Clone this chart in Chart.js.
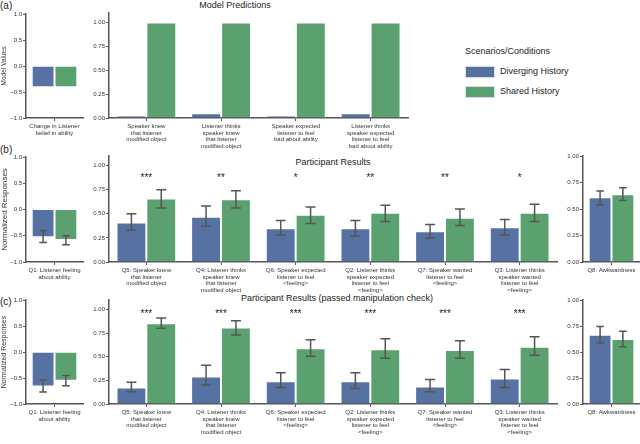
<!DOCTYPE html>
<html lang="en">
<head>
<meta charset="UTF-8">
<title>Model Predictions and Participant Results</title>
<script src="https://cdn.jsdelivr.net/npm/chart.js"></script>
<style>
  body { margin: 0; background: #fff; font-family: "Liberation Sans", Arial, sans-serif; color: #222; }
  #page { position: relative; width: 640px; height: 444px; overflow: hidden; background: #fff; }
  #page canvas { position: absolute; }
  .txt { position: absolute; white-space: nowrap; }
  .title { font-size: 9px; transform: translateX(-50%); }
  .letter { font-size: 10px; }
  .swatch { position: absolute; width: 28px; height: 10px; border: 1px solid #ddd; }
</style>
</head>
<body>
<div id="page">
  <div class="txt letter" style="left:0; top:0;">(a)</div>
  <div class="txt letter" style="left:0; top:144px;">(b)</div>
  <div class="txt letter" style="left:0; top:296px;">(c)</div>

  <div class="txt title" style="left:235px; top:0;">Model Predictions</div>
  <div class="txt title" style="left:333px; top:157px;">Participant Results</div>
  <div class="txt title" style="left:337px; top:293px;">Participant Results (passed manipulation check)</div>

  <!-- legend -->
  <div class="txt" style="left:465px; top:46px; font-size:9px;">Scenarios/Conditions</div>
  <div class="swatch" style="left:465px; top:66px; background:#5572a2;"></div>
  <div class="txt" style="left:500px; top:66px; font-size:9px;">Diverging History</div>
  <div class="swatch" style="left:465px; top:86px; background:#5ba06f;"></div>
  <div class="txt" style="left:500px; top:86px; font-size:9px;">Shared History</div>

  <canvas id="aLeft" width="90" height="152" style="left:0; top:0;"></canvas>
  <canvas id="aMain" width="330" height="152" style="left:85px; top:0;"></canvas>
  <canvas id="bLeft" width="90" height="156" style="left:0; top:140px;"></canvas>
  <canvas id="bMain" width="480" height="156" style="left:85px; top:140px;"></canvas>
  <canvas id="bQ8" width="85" height="156" style="left:555px; top:140px;"></canvas>
  <canvas id="cLeft" width="90" height="154" style="left:0; top:290px;"></canvas>
  <canvas id="cMain" width="480" height="154" style="left:85px; top:290px;"></canvas>
  <canvas id="cQ8" width="85" height="154" style="left:555px; top:290px;"></canvas>
</div>

<script>
// ---- data ----
const abilityModelLabel = [["Change in Listener", "belief in ability"]];
const abilityModelDiverging = [-0.41];
const abilityModelShared = [-0.41];

const modelLabels = [
  ["Speaker knew", "that listener", "modified object"],
  ["Listener thinks", "speaker knew", "that listener", "modified object"],
  ["Speaker expected", "listener to feel", "bad about ability"],
  ["Listener thinks", "speaker expected", "listener to feel", "bad about ability"]
];
const modelDiverging = [0.025, 0.05, 0.025, 0.05];
const modelShared = [1, 1, 1, 1];

const q1Label = [["Q1: Listener feeling", "about ability"]];
const q8Label = ["Q8: Awkwardness"];
const questionLabels = [
  ["Q5: Speaker knew", "that listener", "modified object"],
  ["Q4: Listener thinks", "speaker knew", "that listener", "modified object"],
  ["Q6: Speaker expected", "listener to feel", "<feeling>"],
  ["Q2: Listener thinks", "speaker expected", "listener to feel", "<feeling>"],
  ["Q7: Speaker wanted", "listener to feel", "<feeling>"],
  ["Q3: Listener thinks", "speaker wanted", "listener to feel", "<feeling>"]
];

// (b) all participants
const resQ1Diverging = [-0.53], resQ1DivergingLo = [-0.63], resQ1DivergingHi = [-0.40];
const resQ1Shared = [-0.58], resQ1SharedLo = [-0.67], resQ1SharedHi = [-0.50];
const resDiverging   = [0.41, 0.47, 0.35, 0.35, 0.32, 0.36];
const resDivergingLo = [0.33, 0.37, 0.28, 0.27, 0.25, 0.28];
const resDivergingHi = [0.50, 0.58, 0.43, 0.43, 0.39, 0.44];
const resShared      = [0.66, 0.65, 0.49, 0.51, 0.46, 0.51];
const resSharedLo    = [0.56, 0.56, 0.40, 0.42, 0.38, 0.42];
const resSharedHi    = [0.75, 0.74, 0.57, 0.59, 0.55, 0.60];
const resStars = ["***", "**", "*", "**", "**", "*"];
const resQ8Diverging = [0.61], resQ8DivergingLo = [0.54], resQ8DivergingHi = [0.67];
const resQ8Shared = [0.64], resQ8SharedLo = [0.58], resQ8SharedHi = [0.70];

// (c) passed manipulation check
const passQ1Diverging = [-0.665], passQ1DivergingLo = [-0.77], passQ1DivergingHi = [-0.54];
const passQ1Shared = [-0.555], passQ1SharedLo = [-0.65], passQ1SharedHi = [-0.45];
const passDiverging   = [0.175, 0.29, 0.24, 0.24, 0.185, 0.27];
const passDivergingLo = [0.13, 0.20, 0.175, 0.165, 0.13, 0.175];
const passDivergingHi = [0.23, 0.41, 0.33, 0.33, 0.26, 0.365];
const passShared      = [0.855, 0.81, 0.59, 0.58, 0.57, 0.605];
const passSharedLo    = [0.80, 0.73, 0.505, 0.485, 0.485, 0.515];
const passSharedHi    = [0.91, 0.88, 0.68, 0.69, 0.67, 0.71];
const passStars = ["***", "***", "***", "***", "***", "***"];
const passQ8Diverging = [0.665], passQ8DivergingLo = [0.59], passQ8DivergingHi = [0.745];
const passQ8Shared = [0.625], passQ8SharedLo = [0.55], passQ8SharedHi = [0.70];

const signedTicks = [-1, -0.5, 0, 0.5, 1];
const shareTicks = [0, 0.25, 0.5, 0.75, 1];

const BLUE = '#5572a2';
const GREEN = '#5ba06f';
const AXIS = '#555';
const FONT = '"Liberation Sans", Arial, sans-serif';

// error bars and significance stars, drawn through the chart's own scales
const errorBars = {
  id: 'errorBars',
  afterDatasetsDraw(chart, args, opts) {
    const ctx = chart.ctx;
    const y = chart.scales.y;
    chart.data.datasets.forEach((ds, i) => {
      if (!ds.errLo) return;
      chart.getDatasetMeta(i).data.forEach((bar, j) => {
        const top = y.getPixelForValue(ds.errHi[j]);
        const bot = y.getPixelForValue(ds.errLo[j]);
        const cap = bar.width / 6;
        ctx.save();
        ctx.strokeStyle = AXIS;
        ctx.lineWidth = 1.5;
        ctx.beginPath();
        ctx.moveTo(bar.x, top); ctx.lineTo(bar.x, bot);
        ctx.moveTo(bar.x - cap, top); ctx.lineTo(bar.x + cap, top);
        ctx.moveTo(bar.x - cap, bot); ctx.lineTo(bar.x + cap, bot);
        ctx.stroke();
        ctx.restore();
      });
    });
    if (opts && opts.stars) {
      ctx.save();
      ctx.fillStyle = '#222';
      ctx.font = '10px ' + FONT;
      ctx.textAlign = 'center';
      ctx.textBaseline = 'middle';
      opts.stars.forEach((s, j) => {
        ctx.fillText(s, chart.scales.x.getPixelForValue(j), y.getPixelForValue(opts.starY) + 2);
      });
      ctx.restore();
    }
  }
};

function panel(id, p) {
  const datasets = [
    { label: 'Diverging History', data: p.blue, errLo: p.blueLo, errHi: p.blueHi,
      backgroundColor: BLUE, borderColor: 'rgba(255,255,255,0.55)', borderWidth: 1 },
    { label: 'Shared History', data: p.green, errLo: p.greenLo, errHi: p.greenHi,
      backgroundColor: GREEN, borderColor: 'rgba(255,255,255,0.55)', borderWidth: 1 }
  ];
  return new Chart(document.getElementById(id), {
    type: 'bar',
    data: { labels: p.labels, datasets },
    plugins: [errorBars],
    options: {
      responsive: false,
      animation: false,
      devicePixelRatio: 1,
      categoryPercentage: 0.8,
      barPercentage: 1.0,
      layout: { padding: { top: p.padTop, right: p.padRight, left: 0, bottom: 0 } },
      plugins: {
        legend: { display: false },
        tooltip: { enabled: false },
        errorBars: { stars: p.stars, starY: p.starY }
      },
      scales: {
        x: {
          grid: { display: true, drawOnChartArea: false, offset: false, tickLength: 3, color: AXIS },
          border: { color: AXIS, width: 1.5 },
          ticks: { color: '#333', font: { size: 6, family: FONT, lineHeight: 1.12 },
                   maxRotation: 0, minRotation: 0, autoSkip: false, padding: 2 },
          afterFit: s => { s.height = p.xHeight; }
        },
        y: {
          min: p.min, max: p.max,
          grid: { display: true, drawOnChartArea: false, tickLength: 3, color: AXIS },
          border: { color: AXIS, width: 1.5 },
          ticks: { color: '#333', font: { size: 6, family: FONT }, padding: 1,
                   callback: v => (v < 0 ? '\u2212' : '') + Math.abs(v).toFixed(p.decimals) },
          afterBuildTicks: s => { s.ticks = p.ticks.map(v => ({ value: v })); },
          title: { display: !!p.yTitle, text: p.yTitle, color: '#333',
                   font: { size: p.yTitleSize || 6, family: FONT }, padding: 0 },
          afterFit: s => { s.width = p.yWidth; }
        }
      }
    }
  });
}

// row (a)
panel('aLeft', { labels: abilityModelLabel, blue: abilityModelDiverging, green: abilityModelShared,
  min: -1, max: 1, ticks: signedTicks, decimals: 1, yTitle: 'Model Values', yTitleSize: 6.5,
  yWidth: 26, padTop: 14, padRight: 7, xHeight: 34 });
panel('aMain', { labels: modelLabels, blue: modelDiverging, green: modelShared,
  min: 0, max: 1.1, ticks: shareTicks, decimals: 2,
  yWidth: 24, padTop: 13, padRight: 7, xHeight: 34 });

// row (b)
panel('bLeft', { labels: q1Label, blue: resQ1Diverging, blueLo: resQ1DivergingLo, blueHi: resQ1DivergingHi,
  green: resQ1Shared, greenLo: resQ1SharedLo, greenHi: resQ1SharedHi,
  min: -1, max: 1, ticks: signedTicks, decimals: 1, yTitle: 'Normalized Responses', yTitleSize: 8,
  yWidth: 26, padTop: 17, padRight: 7, xHeight: 34 });
panel('bMain', { labels: questionLabels, blue: resDiverging, blueLo: resDivergingLo, blueHi: resDivergingHi,
  green: resShared, greenLo: resSharedLo, greenHi: resSharedHi, stars: resStars, starY: 0.885,
  min: 0, max: 1.1, ticks: shareTicks, decimals: 2,
  yWidth: 24, padTop: 16, padRight: 8, xHeight: 34 });
panel('bQ8', { labels: q8Label, blue: resQ8Diverging, blueLo: resQ8DivergingLo, blueHi: resQ8DivergingHi,
  green: resQ8Shared, greenLo: resQ8SharedLo, greenHi: resQ8SharedHi,
  min: 0, max: 1, ticks: shareTicks, decimals: 2,
  yWidth: 28, padTop: 16, padRight: 0, xHeight: 34 });

// row (c)
panel('cLeft', { labels: q1Label, blue: passQ1Diverging, blueLo: passQ1DivergingLo, blueHi: passQ1DivergingHi,
  green: passQ1Shared, greenLo: passQ1SharedLo, greenHi: passQ1SharedHi,
  min: -1, max: 1, ticks: signedTicks, decimals: 1, yTitle: 'Normalized Responses', yTitleSize: 7,
  yWidth: 26, padTop: 10, padRight: 7, xHeight: 40 });
panel('cMain', { labels: questionLabels, blue: passDiverging, blueLo: passDivergingLo, blueHi: passDivergingHi,
  green: passShared, greenLo: passSharedLo, greenHi: passSharedHi, stars: passStars, starY: 0.97,
  min: 0, max: 1.1, ticks: shareTicks, decimals: 2,
  yWidth: 24, padTop: 10, padRight: 8, xHeight: 40 });
panel('cQ8', { labels: q8Label, blue: passQ8Diverging, blueLo: passQ8DivergingLo, blueHi: passQ8DivergingHi,
  green: passQ8Shared, greenLo: passQ8SharedLo, greenHi: passQ8SharedHi,
  min: 0, max: 1, ticks: shareTicks, decimals: 2,
  yWidth: 28, padTop: 10, padRight: 0, xHeight: 40 });
</script>
</body>
</html>
